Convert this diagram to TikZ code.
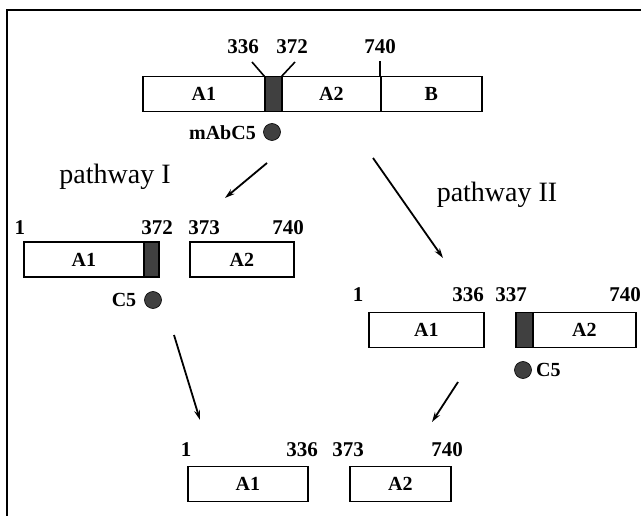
\documentclass[tikz,border=0pt]{standalone}
\usepackage{fontspec}
\setmainfont{Liberation Serif}
\usetikzlibrary{arrows.meta}
\tikzset{
  seg/.style={draw, line width=1.8pt, minimum height=35pt, inner sep=0pt, anchor=west, font=\fontsize{20}{20}\selectfont\bfseries},
  dark/.style={seg, fill=black!75},
  num/.style={font=\fontsize{21}{21}\selectfont\bfseries, inner sep=0pt},
  lab/.style={font=\fontsize{20}{20}\selectfont\bfseries, inner sep=0pt},
  path/.style={font=\fontsize{28}{28}\selectfont, inner sep=0pt},
  dot/.style={circle, fill=black!75, draw=black, line width=0.6pt, minimum size=17pt, inner sep=0pt},
  arr/.style={line width=1.8pt, -{Stealth[length=10pt,width=6pt]}},
  tick/.style={line width=1.6pt}
}
\begin{document}
\begin{tikzpicture}[x=1pt,y=-1pt]
\useasboundingbox (0,0) rectangle (641,516);
% frame
\draw[line width=2pt] (7,516) -- (7,10) -- (641,10);
% top bar
\node[seg, minimum width=122pt] (tA1) at (142,94) {A1};
\node[dark, minimum width=17pt] (tD) at (264,94) {};
\node[seg, minimum width=99pt] (tA2) at (281,94) {A2};
\node[seg, minimum width=101pt] (tB) at (380,94) {B};
\node[num] (n336) at (243,47) {336};
\node[num] (n372) at (292,47) {372};
\node[num] (n740) at (380,47) {740};
\coordinate (t1a) at (252,62); \coordinate (t1b) at (265,77);
\coordinate (t2a) at (295,62); \coordinate (t2b) at (281,77);
\coordinate (t3a) at (380,61); \coordinate (t3b) at (380,77);
\draw[tick] (t1a) -- (t1b);
\draw[tick] (t2a) -- (t2b);
\draw[tick] (t3a) -- (t3b);
\node[lab, anchor=east] (mab) at (256,133) {mAbC5};
\node[dot] (mabdot) at (272,132) {};
% pathway labels
\node[path] (p1) at (115,177) {pathway I};
\node[path] (p2) at (497,195) {pathway II};
\coordinate (a1s) at (267,163); \coordinate (a1e) at (225,198);
\draw[arr] (a1s) -- (a1e);
\coordinate (a2s) at (373,158); \coordinate (a2e) at (443,258);
\draw[arr] (a2s) -- (a2e);
% pathway I middle
\node[seg, minimum width=120pt] (mA1) at (23,259.5) {A1};
\node[dark, minimum width=15pt] (mD) at (143,259.5) {};
\node[seg, minimum width=104pt] (mA2) at (189,259.5) {A2};
\node[num] (m1) at (20,228) {1};
\node[num] (m372) at (157,228) {372};
\node[num] (m373) at (204,228) {373};
\node[num] (m740) at (288,228) {740};
\node[lab] (mc5) at (124,300) {C5};
\node[dot] (mc5dot) at (153,300) {};
\coordinate (a3s) at (174,335); \coordinate (a3e) at (200,420);
\draw[arr] (a3s) -- (a3e);
% pathway II middle
\node[seg, minimum width=115pt] (rA1) at (368,330) {A1};
\node[dark, minimum width=17pt] (rD) at (515,330) {};
\node[seg, minimum width=103pt] (rA2) at (532,330) {A2};
\node[num] (r1) at (358,295) {1};
\node[num] (r336) at (468,295) {336};
\node[num] (r337) at (511,295) {337};
\node[num] (r740) at (625,295) {740};
\node[dot] (rc5dot) at (523,370) {};
\node[lab, anchor=west] (rc5) at (536,370) {C5};
\coordinate (a4s) at (458,382); \coordinate (a4e) at (432,422);
\draw[arr] (a4s) -- (a4e);
% bottom
\node[seg, minimum width=120pt] (bA1) at (187,484) {A1};
\node[seg, minimum width=101pt] (bA2) at (349,484) {A2};
\node[num] (b1) at (186,450) {1};
\node[num] (b336) at (302,450) {336};
\node[num] (b373) at (348,450) {373};
\node[num] (b740) at (447,450) {740};
\end{tikzpicture}
\end{document}
